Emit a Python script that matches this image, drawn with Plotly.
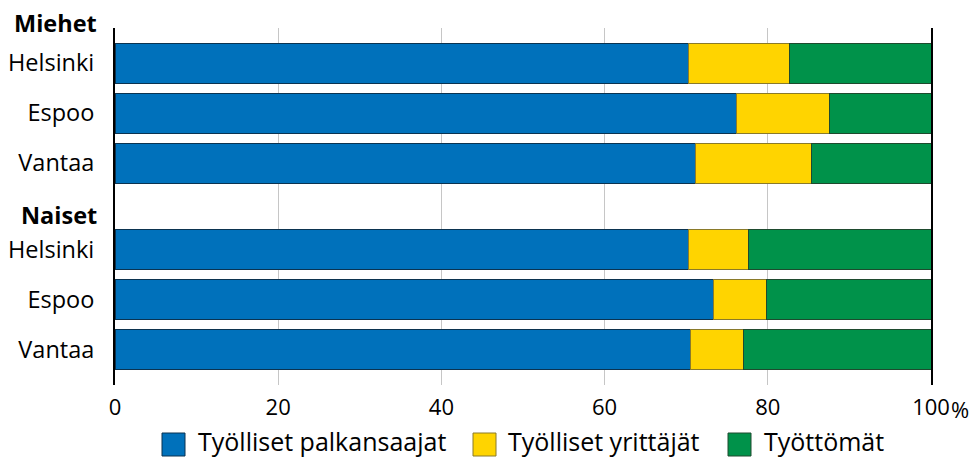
import plotly.graph_objects as go

groups = ["Miehet", "Naiset"]
cities = ["Helsinki", "Espoo", "Vantaa"]
series_names = ["Työlliset palkansaajat", "Työlliset yrittäjät", "Työttömät"]
# values in %, order: Miehet Helsinki, Espoo, Vantaa, Naiset Helsinki, Espoo, Vantaa
palkansaajat = [70.3, 76.2, 71.1, 70.3, 73.4, 70.5]
yrittajat = [12.4, 11.4, 14.2, 7.3, 6.5, 6.5]
tyottomat = [17.3, 12.4, 14.7, 22.4, 20.1, 23.0]
x_ticks = [0, 20, 40, 60, 80, 100]
x_tick_labels = ["0", "20", "40", "60", "80", "100"]

colors = ["#0071BB", "#FFD400", "#00924A"]
edges = ["#0B3350", "#8A7A2A", "#1E4A2E"]

W, H = 976, 459
ML, MR, MT, MB = 115, 45, 28, 74
PW, PH = W - ML - MR, H - MT - MB
YR = [6.44, -0.7]

def px_to_paper_x(px):
    return (px - ML) / PW

def px_to_paper_y(py):
    return (H - MB - py) / PH

def data_to_paper_y(v):
    return (YR[0] - v) / (YR[0] - YR[1])

group_start = [0.0, 3.73]
header_offset = [0.8, 0.69]
ypos = []
ylabels = []
for g, start in enumerate(group_start):
    for i, c in enumerate(cities):
        ypos.append(start + i)
        ylabels.append(c)

FONT = "Open Sans"
LABEL_SIZE = 23.5
LEGEND_SIZE = 25
fig = go.Figure()
for name, vals, col, ed in zip(series_names, [palkansaajat, yrittajat, tyottomat], colors, edges):
    fig.add_trace(go.Bar(
        x=vals, y=ypos, orientation="h", name=name, width=0.8,
        marker=dict(color=col, line=dict(color=ed, width=1)),
        hoverinfo="x+name", showlegend=False,
    ))

annotations = []
shapes = []
for g, start in enumerate(group_start):
    annotations.append(dict(
        text="<b>" + groups[g] + "</b>", xref="paper", yref="paper", x=0,
        y=data_to_paper_y(start - header_offset[g]),
        xanchor="right", yanchor="middle", xshift=-16, showarrow=False,
        font=dict(family=FONT, size=LABEL_SIZE, color="#000"),
    ))
annotations.append(dict(
    text="%", xref="x", yref="paper", x=100, y=0, xanchor="left", yanchor="top",
    xshift=18, yshift=-7, showarrow=False, font=dict(family=FONT, size=22, color="#000"),
))

# custom legend (large swatches)
swatch_left = [162, 473, 728]
text_left = [196, 506, 762]
sw_top, sw_bot = 433, 456
for i, name in enumerate(series_names):
    shapes.append(dict(
        type="rect", xref="paper", yref="paper",
        x0=px_to_paper_x(swatch_left[i]), x1=px_to_paper_x(swatch_left[i] + 23),
        y0=px_to_paper_y(sw_bot), y1=px_to_paper_y(sw_top),
        fillcolor=colors[i], line=dict(color=edges[i], width=1),
    ))
    annotations.append(dict(
        text=name, xref="paper", yref="paper", x=px_to_paper_x(text_left[i]),
        y=px_to_paper_y(441), xanchor="left", yanchor="middle",
        showarrow=False, font=dict(family=FONT, size=LEGEND_SIZE, color="#000"),
    ))

fig.update_layout(
    barmode="stack",
    width=W, height=H,
    margin=dict(l=ML, r=MR, t=MT, b=MB, autoexpand=False),
    plot_bgcolor="white", paper_bgcolor="white",
    font=dict(family=FONT, size=LABEL_SIZE, color="#000"),
    xaxis=dict(
        range=[0, 100], tickvals=x_ticks, ticktext=x_tick_labels,
        showgrid=True, gridcolor="#c6c6c6", gridwidth=1, zeroline=False,
        showline=False, ticks="", ticklabelstandoff=7, fixedrange=True,
        automargin=False, tickfont=dict(size=22),
    ),
    yaxis=dict(
        range=YR, tickvals=ypos, ticktext=ylabels,
        showgrid=False, zeroline=False, showline=True, mirror=True,
        linecolor="#000", linewidth=2, ticks="", ticklabelstandoff=14, fixedrange=True,
        automargin=False,
    ),
    showlegend=False,
    annotations=annotations,
    shapes=shapes,
)

fig.write_html(
    "out.html",
    config={"displayModeBar": False},
    post_script="document.body.style.margin='0';document.body.style.overflow='hidden';",
)
